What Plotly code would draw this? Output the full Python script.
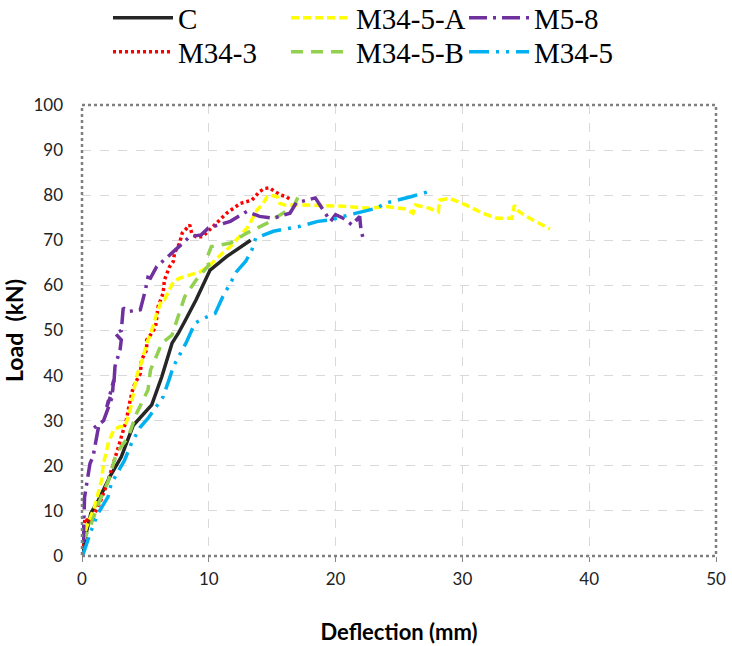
import plotly.graph_objects as go

# ---- data (deflection mm, load kN) ----
c_x = [0, 0.2, 0.7, 1.3, 2.2, 3.1, 3.6, 4.05, 5.5, 6.3, 7.1, 7.6, 8.1, 9.0, 10.1, 11.4, 13.3]
c_y = [0, 3.5, 9.5, 12.4, 17.6, 22, 25.7, 29, 33.5, 39.8, 47.2, 49.4, 52, 56.8, 63.4, 66.4, 70]

m343_x = [0, 0.1, 0.25, 0.6, 1.4, 2.0, 2.8, 3.5, 3.8, 4.05, 4.6, 4.7, 5.1, 5.1, 5.5, 5.8, 5.9, 6.0, 6.4,
          6.5, 6.9, 7.2, 7.3, 7.7, 7.9, 8.5, 8.65, 9.0, 9.5, 10.1, 10.6, 11.4, 12.5, 13.4, 14.0, 14.4,
          14.8, 15.2, 15.7, 16.1, 16.5]
m343_y = [2, 5.8, 8.4, 7.3, 11.7, 16.2, 23.5, 30.2, 34.6, 37.5, 40.5, 43.5, 45.7, 47.9, 49.4, 50.8, 53,
          55.3, 58.3, 61.2, 64.1, 65.3, 67.2, 69.4, 71.6, 73.4, 71.6, 70.8, 70.8, 72.3, 73.8, 76, 78.2,
          78.9, 80.8, 81.5, 81.6, 80.8, 80, 79.7, 78.9]

m345a_x = [0, 0.37, 1.0, 1.55, 1.7, 2.07, 2.5, 3.0, 3.4, 3.8, 4.05, 4.3, 4.7, 5.1, 5.5, 5.9, 6.3, 6.5,
           6.9, 7.2, 7.7, 8.5, 9.3, 10.1, 10.9, 11.7, 12.5, 13.1, 13.8, 14.3, 14.6, 14.8, 15.4, 15.6,
           16.0, 17.7, 20.3, 22.7, 24.0, 25.6, 26.1, 26.3, 27.4, 28.1, 28.2, 29.0, 30.3, 31.6, 32.7,
           33.9, 34.1, 34.3, 35.1, 36.1, 36.9]
m345a_y = [3, 6.5, 10.9, 16.9, 20.6, 25, 28, 28.7, 28.7, 32.4, 36, 39.8, 43, 47.1, 50, 53.8, 56.8, 56.8,
           59, 60.8, 61.6, 62.3, 63, 64.5, 66.7, 68.6, 71.2, 73, 76.7, 78.2, 79.7, 80, 79.7, 78.2,
           77.8, 77.8, 77.6, 77.1, 77.5, 76.9, 76, 77.8, 77.1, 76.3, 78.9, 79.3, 77.8, 76, 74.9,
           74.9, 77.8, 76.7, 75.2, 73.8, 72.5]

m58_x = [0.1, 0.15, 0.2, 0.37, 0.63, 0.87, 1.15, 1.3, 0.9, 1.7, 2.35, 2.5, 1.95, 2.5, 2.6, 3.0, 3.1,
         2.6, 3.1, 3.25, 3.65, 4.6, 5.0, 5.2, 5.4, 5.9, 7.1, 8.5, 9.4, 9.96, 11.7, 13.0, 14.0, 15.1,
         16.4, 16.9, 18.4, 19.0, 19.6, 20.0, 20.6, 21.3, 21.9, 22.0, 22.2]
m58_y = [3, 8.6, 13, 16, 20.5, 22, 26.4, 28.6, 28.3, 30, 35, 39, 33, 37.5, 42, 45.7, 47.9,
         49.4, 50, 55, 54.2, 54.6, 59, 61.8, 61.6, 64.2, 67.2, 70.8, 71.2, 72.7, 74.2, 76.4, 75.3, 74.9,
         76, 78.3, 79.4, 76.8, 74.2, 75.7, 74.9, 73.4, 75.3, 72.3, 70.1]

m345b_x = [0, 0.24, 0.63, 1.4, 2.1, 2.7, 3.65, 4.3, 5.2, 5.4, 6.3, 7.1, 7.7, 8.1, 9.0, 10.0, 9.8,
           10.2, 11.7, 13.0, 14.6, 15.9, 16.7, 17.1]
m345b_y = [3, 4.2, 6.4, 12.3, 16.8, 22.7, 26.4, 31.6, 36.8, 41.2, 47.2, 49, 53.8, 57.5, 61.2, 64.5, 65.7,
           68.6, 69.4, 71.6, 73.8, 76, 77.5, 80]

m345_x = [0, 0.1, 0.73, 1.26, 2.05, 2.3, 3.35, 3.9, 4.6, 5.2, 5.76, 6.4, 6.9, 7.2, 7.7, 8.25, 8.9, 9.6,
          10.5, 11.1, 11.7, 12.2, 12.9, 13.4, 13.7, 14.3, 15.1, 16.0, 17.2, 18.6, 19.7, 20.6, 21.7,
          23.2, 24.0, 25.1, 26.0, 27.7]
m345_y = [0, 0.5, 5.7, 9.4, 13.1, 16, 21.2, 25, 28.6, 30.5, 32.7, 35.3, 39.4, 42, 44.6, 47.5, 51.6, 52.7,
          53.8, 57.5, 60.5, 63.1, 65.3, 67.9, 70.5, 71.2, 72, 72.5, 73.1, 74.2, 74.6, 75.3, 76,
          77.1, 78.3, 79, 79.7, 81.1]

x_ticks = [0, 10, 20, 30, 40, 50]
y_ticks = [0, 10, 20, 30, 40, 50, 60, 70, 80, 90, 100]

# (name, x, y, colour, dash)
series = [
    ("C", c_x, c_y, "#262626", "solid"),
    ("M34-3", m343_x, m343_y, "#FF0000", "3px,3px"),
    ("M34-5-A", m345a_x, m345a_y, "#FFFF00", "8px,4px"),
    ("M34-5-B", m345b_x, m345b_y, "#92D050", "12px,8px"),
    ("M5-8", m58_x, m58_y, "#7030A0", "18px,6px,3px,6px"),
    ("M34-5", m345_x, m345_y, "#00B0F0", "20px,7px,3px,7px,3px,7px"),
]

# legend slot (pixel left edge, pixel row centre) for each series, in series order
legend_slots = [(108, 18), (108, 52), (286, 18), (286, 52), (464, 18), (464, 52)]

W, H = 732, 646
ML, MR, MT, MB = 82, 16, 105, 90
PW, PH = W - ML - MR, H - MT - MB

fig = go.Figure()
layout_legends = {}
for i, (name, xs, ys, col, dash) in enumerate(series):
    lg = "legend" if i == 0 else f"legend{i + 1}"
    fig.add_trace(go.Scatter(x=xs, y=ys, mode="lines", name=name, legend=lg,
                             line=dict(color=col, width=3.5, dash=dash)))
    px, py = legend_slots[i]
    layout_legends[lg] = dict(
        orientation="v", xref="paper", yref="paper",
        x=(px - ML) / PW, y=(H - MB - py) / PH, xanchor="left", yanchor="middle",
        font=dict(family="Liberation Serif", size=29, color="black"),
        itemwidth=60, tracegroupgap=0, bgcolor="rgba(0,0,0,0)", borderwidth=0)

fig.update_layout(
    width=W, height=H,
    margin=dict(l=ML, r=MR, t=MT, b=MB, autoexpand=False),
    paper_bgcolor="white", plot_bgcolor="white",
    showlegend=True,
    xaxis=dict(range=[0, 50], tickvals=x_ticks, showgrid=True, gridcolor="#D9D9D9",
               griddash="dash", gridwidth=1, zeroline=False, showline=False,
               ticks="outside", ticklen=5, tickcolor="#888", ticklabelstandoff=3,
               tickfont=dict(family="Lato", size=17, color="#222"),
               title=dict(text="<b>Deflection (mm)</b>", standoff=36,
                          font=dict(family="Lato", size=22, color="black"))),
    yaxis=dict(range=[0, 100], tickvals=y_ticks, showgrid=True, gridcolor="#D9D9D9",
               griddash="dash", gridwidth=1, zeroline=False, showline=False,
               ticks="", ticklabelstandoff=18,
               tickfont=dict(family="Lato", size=17, color="#222"),
               title=dict(text="<b>Load&nbsp;&nbsp;(kN)</b>", standoff=6,
                          font=dict(family="Lato", size=23, color="black"))),
    **layout_legends,
)
fig.add_shape(type="rect", xref="paper", yref="paper", x0=0, y0=0, x1=1, y1=1,
              line=dict(color="#7f7f7f", width=2.5, dash="dot"), layer="above")

fig.write_html("out.html")
